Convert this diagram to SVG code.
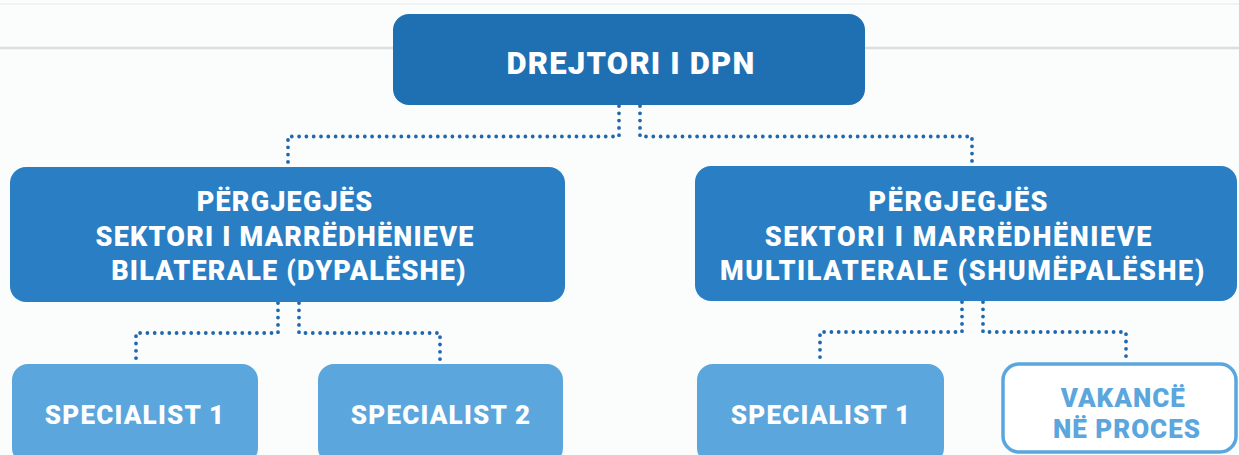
<svg xmlns="http://www.w3.org/2000/svg" width="1239" height="455" viewBox="0 0 1239 455">
  <style>
    .dark { fill: #1f6fb3; }
    .mid { fill: #2a7ec3; }
    .light { fill: #5aa6dd; }
    .outline { fill: #ffffff; stroke: #5aa6dd; stroke-width: 3.5; }
    .t { font-family: Roboto, "Liberation Sans", sans-serif; font-weight: 900; text-anchor: middle; fill: #ffffff; }
    .tl { font-family: Roboto, "Liberation Sans", sans-serif; font-weight: 900; text-anchor: middle; fill: #5aa6dd; }
    .dots { fill: none; stroke: #2068ad; stroke-width: 3.8; stroke-linecap: round; stroke-dasharray: 0 7.3; }
  </style>
  <rect x="0" y="0" width="1239" height="455" fill="#fbfdfd"/>
  <line x1="0" y1="4" x2="1239" y2="4" stroke="#eceff0" stroke-width="1.5"/>
  <line x1="0" y1="48" x2="1239" y2="48" stroke="#dcdfe0" stroke-width="2.5"/>

  <g id="connectors">
    <path class="dots" d="M619,106 V136.5 H288 V166"/>
    <path class="dots" d="M640,106 V136.5 H972 V166"/>
    <path class="dots" d="M278,303 V333 H136 V363"/>
    <path class="dots" d="M299,303 V333 H440 V363"/>
    <path class="dots" d="M962,302 V332 H820 V363"/>
    <path class="dots" d="M983,302 V332 H1126 V362"/>
  </g>

  <g id="drejtori">
    <rect class="dark" x="393" y="14" width="472" height="91" rx="16"/>
    <text class="t" x="631" y="74" font-size="31" letter-spacing="1.2">DREJTORI I DPN</text>
  </g>

  <g id="sektori-bilaterale">
    <rect class="mid" x="10" y="167" width="555" height="135" rx="16"/>
    <text class="t" font-size="27" letter-spacing="1.2">
      <tspan x="289" y="211">PËRGJEGJËS</tspan>
      <tspan x="289" y="246">SEKTORI I MARRËDHËNIEVE</tspan>
      <tspan x="289" y="280">BILATERALE (DYPALËSHE)</tspan>
    </text>
  </g>

  <g id="sektori-multilaterale">
    <rect class="mid" x="695" y="166" width="542" height="135" rx="16"/>
    <text class="t" font-size="27" letter-spacing="1.6">
      <tspan x="963" y="211">PËRGJEGJËS</tspan>
      <tspan x="963" y="246">SEKTORI I MARRËDHËNIEVE</tspan>
      <tspan x="963" y="280">MULTILATERALE (SHUMËPALËSHE)</tspan>
    </text>
  </g>

  <g id="specialist-1-bilaterale">
    <rect class="light" x="12" y="364" width="246" height="100" rx="16"/>
    <text class="t" x="135" y="424" font-size="26" letter-spacing="1.2">SPECIALIST 1</text>
  </g>

  <g id="specialist-2-bilaterale">
    <rect class="light" x="318" y="364" width="245" height="100" rx="16"/>
    <text class="t" x="441" y="424" font-size="26" letter-spacing="1.2">SPECIALIST 2</text>
  </g>

  <g id="specialist-1-multilaterale">
    <rect class="light" x="697" y="364" width="247" height="100" rx="16"/>
    <text class="t" x="821" y="424" font-size="26" letter-spacing="1.2">SPECIALIST 1</text>
  </g>

  <g id="vakance">
    <rect class="outline" x="1003" y="364" width="233" height="88" rx="16"/>
    <text class="tl" font-size="26" letter-spacing="1">
      <tspan x="1127" y="407">VAKANCË</tspan>
      <tspan x="1127" y="438">NË PROCES</tspan>
    </text>
  </g>
</svg>
